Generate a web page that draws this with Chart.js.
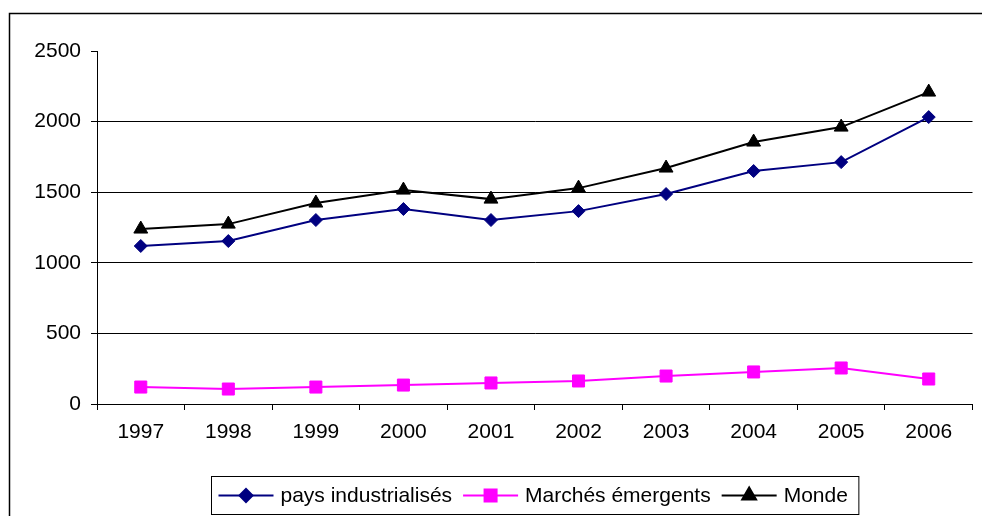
<!DOCTYPE html>
<html>
<head>
<meta charset="utf-8">
<script src="https://cdn.jsdelivr.net/npm/chart.js@4"></script>
<style>
  html, body { margin: 0; padding: 0; background: #fff; }
  #wrap { width: 982px; height: 516px; }
</style>
</head>
<body>
<div id="wrap"><canvas id="chart" width="982" height="516"></canvas></div>
<script>
const years = ['1997', '1998', '1999', '2000', '2001', '2002', '2003', '2004', '2005', '2006']
const industrialises = [1119, 1154, 1303, 1381, 1303, 1366, 1487, 1650, 1713, 2032]
const emergents = [120, 106, 120, 134, 149, 163, 198, 227, 255, 177]
const monde = [1239, 1274, 1423, 1515, 1451, 1529, 1671, 1855, 1961, 2209]
const yTicks = [0, 500, 1000, 1500, 2000, 2500]

const FONT = 'Liberation Sans, Arial, sans-serif'
const FONT_SIZE = 21

// legend in a box + outer frame, drawn by hand (Excel-like look)
const excelLegend = {
  id: 'excelLegend',
  afterDraw(chart) {
    const ctx = chart.ctx
    const area = chart.chartArea
    ctx.save()
    ctx.font = FONT_SIZE + 'px ' + FONT
    const lineW = 55, gapText = 7, gapItem = 11, padX = 7
    const items = chart.data.datasets.map(ds => ({
      ds, w: lineW + gapText + ctx.measureText(ds.label).width
    }))
    const total = items.reduce((s, it) => s + it.w, 0) + gapItem * (items.length - 1)
    const boxW = total + padX * 2 + 4
    const boxL = Math.round((area.left + area.right) / 2 - boxW / 2) + 0.5
    const boxT = 476.5, boxH = 38
    ctx.strokeStyle = '#000'
    ctx.lineWidth = 1
    ctx.strokeRect(boxL, boxT, boxW, boxH)
    const cy = boxT + boxH / 2
    let x = boxL + padX
    items.forEach(it => {
      const ds = it.ds
      ctx.strokeStyle = ds.borderColor
      ctx.lineWidth = 2
      ctx.beginPath()
      ctx.moveTo(x, cy)
      ctx.lineTo(x + lineW, cy)
      ctx.stroke()
      ctx.fillStyle = ds.backgroundColor
      Chart.helpers.drawPoint(ctx, {
        pointStyle: ds.pointStyle, radius: ds.pointRadius, borderWidth: 1
      }, x + lineW / 2, cy)
      ctx.fill()
      ctx.fillStyle = '#000'
      ctx.textBaseline = 'middle'
      ctx.textAlign = 'left'
      ctx.fillText(ds.label, x + lineW + gapText, cy + 1)
      x += it.w + gapItem
    })
    // outer chart frame
    ctx.strokeStyle = '#000'
    ctx.lineWidth = 1.5
    ctx.strokeRect(9.5, 13.5, 1000, 600)
    ctx.restore()
  }
}

new Chart(document.getElementById('chart'), {
  type: 'line',
  data: {
    labels: years,
    datasets: [
      {
        label: 'pays industrialisés',
        data: industrialises,
        borderColor: '#000080',
        backgroundColor: '#000080',
        borderWidth: 2,
        pointStyle: 'rectRot',
        pointRadius: 6.5,
        pointBorderWidth: 1
      },
      {
        label: 'Marchés émergents',
        data: emergents,
        borderColor: '#FF00FF',
        backgroundColor: '#FF00FF',
        borderWidth: 2,
        pointStyle: 'rect',
        pointRadius: 8.5,
        pointBorderWidth: 1
      },
      {
        label: 'Monde',
        data: monde,
        borderColor: '#000000',
        backgroundColor: '#000000',
        borderWidth: 2,
        pointStyle: 'triangle',
        pointRadius: 8,
        pointBorderWidth: 1
      }
    ]
  },
  options: {
    responsive: false,
    animation: false,
    layout: {
      padding: { left: 0, top: 51, right: 6, bottom: 72 }
    },
    plugins: {
      legend: { display: false },
      tooltip: { enabled: false }
    },
    scales: {
      x: {
        offset: true,
        grid: {
          offset: true,
          drawOnChartArea: false,
          drawTicks: true,
          tickLength: 6,
          tickColor: '#000'
        },
        border: { display: true, color: '#000', width: 1 },
        ticks: {
          color: '#000',
          font: { family: FONT, size: FONT_SIZE },
          padding: 10,
          maxRotation: 0
        },
        afterFit(scale) { scale.height = 40 }
      },
      y: {
        min: 0,
        max: 2500,
        afterBuildTicks(scale) { scale.ticks = yTicks.map(v => ({ value: v })) },
        grid: {
          color: ctx => (ctx.tick && ctx.tick.value === 2500) ? 'rgba(0,0,0,0)' : '#000',
          tickColor: '#000',
          tickLength: 6,
          lineWidth: 1
        },
        border: { display: true, color: '#000', width: 1 },
        ticks: {
          color: '#000',
          font: { family: FONT, size: FONT_SIZE },
          padding: 10,
          callback: v => String(v)
        },
        afterFit(scale) { scale.width = 97 }
      }
    }
  },
  plugins: [excelLegend]
})
</script>
</body>
</html>
